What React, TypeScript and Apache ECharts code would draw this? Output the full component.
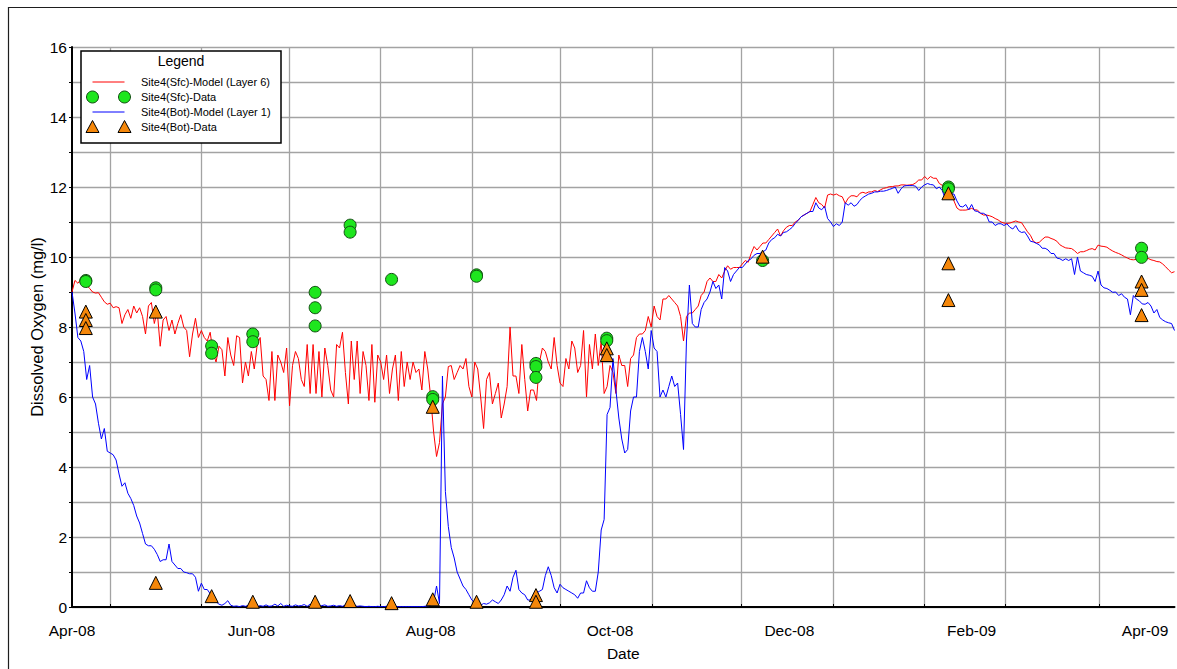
import React, { useEffect, useRef } from "react";
import * as echarts from "echarts";

// ---- axis definitions (day offsets from 1 Apr 2008) ----
const xLabelDays = [0, 61, 122, 183, 244, 306, 365];
const xLabelTexts = ["Apr-08", "Jun-08", "Aug-08", "Oct-08", "Dec-08", "Feb-09", "Apr-09"];
const xGridDays = [13, 44, 74, 105, 136, 166, 197.5, 227.5, 259, 290, 317.5, 349.3];
const xMaxDay = 375;

// ---- model series: one value per day, starting at day 0 ----
const modelStepDays = 1;
const sfcModel = [
  9.0, 9.33, 9.25, 9.36, 9.25, 9.2, 9.1, 9.0, 8.97, 8.98,
  8.85, 8.72, 8.65, 8.68, 8.55, 8.58, 8.55, 8.1, 8.35, 8.5,
  8.25, 8.6, 8.4, 8.55, 8.3, 7.8, 8.6, 8.7, 8.1, 8.45,
  7.45, 8.2, 8.3, 7.9, 8.2, 7.8, 8.1, 8.35, 8.0, 7.9,
  7.15, 7.8, 8.25, 7.7, 7.9, 7.7, 7.6, 7.85, 7.25, 7.0,
  7.45, 7.35, 6.6, 7.7, 7.2, 6.9, 7.75, 7.7, 6.4, 7.0,
  6.6, 7.3, 6.8, 7.5, 7.7, 6.6, 6.5, 5.9, 7.3, 5.9,
  7.2, 7.0, 6.7, 7.4, 5.75, 6.9, 7.3, 7.1, 6.5, 6.3,
  7.5, 6.1, 7.5, 6.1, 7.3, 6.0, 7.4, 6.9, 6.2, 6.0,
  7.5, 7.4, 7.85, 6.7, 5.8, 7.6, 6.5, 7.6, 6.1, 7.3,
  6.9, 5.9, 7.5, 5.85, 7.2, 7.0, 6.5, 7.2, 6.1, 6.8,
  7.2, 5.9, 7.3, 6.3, 7.0, 6.5, 7.0, 6.7, 6.8, 6.2,
  7.3, 6.8, 6.0, 5.0, 4.3, 4.7, 5.8, 6.0, 6.87, 6.9,
  6.5, 6.7, 6.9, 6.8, 7.1, 6.3, 6.0, 7.0, 6.8, 6.0,
  5.1, 6.5, 6.7, 5.8, 6.1, 6.4, 5.4, 5.8, 6.3, 8.0,
  6.6, 6.6, 6.1, 7.5, 6.5, 5.6, 6.2, 6.2, 5.9, 7.0,
  7.4, 7.3, 7.0, 6.8, 7.7, 6.9, 6.4, 6.3, 7.1, 6.8,
  7.6, 7.4, 6.7, 6.9, 7.9, 6.0, 7.5, 6.8, 7.8, 6.9,
  7.6, 6.1, 6.3, 6.9, 6.7, 6.1, 7.2, 6.9, 6.9, 6.3,
  7.1, 7.2, 7.7, 7.8, 7.8, 7.9, 8.3, 8.0, 8.6, 8.3,
  8.2, 8.8, 8.8, 8.9, 8.8, 8.7, 8.6, 8.3, 7.6, 8.3,
  8.4, 8.4, 8.5, 8.6, 8.9, 9.0, 9.3, 9.4, 9.3, 9.3,
  9.5, 9.4, 9.6, 9.75, 9.65, 9.7, 9.7, 9.7, 9.8, 9.9,
  9.85, 10.1, 10.3, 10.2, 10.3, 10.4, 10.4, 10.5, 10.6, 10.7,
  10.8, 10.6, 10.75, 10.85, 10.9, 10.9, 11.0, 11.05, 11.15, 11.2,
  11.25, 11.3, 11.5, 11.7, 11.55, 11.5, 11.4, 11.77, 11.8, 11.77,
  11.8, 11.75, 11.72, 11.53, 11.68, 11.75, 11.75, 11.72, 11.82, 11.85,
  11.82, 11.86, 11.86, 11.9, 11.87, 11.92, 11.96, 11.98, 12.01, 12.01,
  12.03, 12.03, 12.06, 12.06, 12.05, 12.06, 12.07, 12.12, 12.2, 12.2,
  12.3, 12.22, 12.3, 12.25, 12.25, 12.1, 12.05, 11.87, 11.82, 11.78,
  11.6, 11.4, 11.34, 11.34, 11.34, 11.36, 11.39, 11.35, 11.34, 11.25,
  11.2, 11.2, 11.18, 11.15, 11.1, 11.06, 11.0, 10.97, 10.96, 10.97,
  11.0, 11.03, 11.0, 10.98, 10.85, 10.72, 10.62, 10.45, 10.4, 10.42,
  10.5, 10.57, 10.57, 10.53, 10.5, 10.45, 10.35, 10.3, 10.26, 10.25,
  10.24, 10.18, 10.1, 10.15, 10.15, 10.18, 10.22, 10.24, 10.2, 10.34,
  10.31, 10.3, 10.28, 10.22, 10.17, 10.13, 10.1, 10.06, 10.01, 9.97,
  9.93, 9.92, 9.93, 9.92, 9.92, 9.96, 9.96, 9.92, 9.9, 9.87,
  9.86, 9.8, 9.72, 9.63, 9.55, 9.58,
];
const botModel = [
  9.0, 8.4, 7.7, 7.6, 7.3, 6.5, 6.9, 6.0, 5.8, 5.25,
  4.8, 5.1, 4.45, 4.4, 4.35, 4.2, 3.8, 3.45, 3.55, 3.25,
  3.1, 2.9, 2.6, 2.4, 2.1, 1.8, 1.75, 1.75, 1.65, 1.5,
  1.3, 1.35, 1.35, 1.8, 1.3, 1.2, 1.1, 1.1, 1.0, 0.98,
  0.95, 0.95, 0.85, 0.45, 0.68, 0.5, 0.5, 0.38, 0.25, 0.15,
  0.08, 0.05, 0.1, 0.18, 0.05, 0.02, 0.03, 0.01, 0.04, 0.02,
  0.05, 0.02, 0.03, 0.01, 0.04, 0.02, 0.06, 0.02, 0.03, 0.08,
  0.03, 0.1, 0.02, 0.05, 0.03, 0.02, 0.06, 0.03, 0.04, 0.07,
  0.02, 0.08, 0.03, 0.05, 0.02, 0.04, 0.06, 0.02, 0.03, 0.05,
  0.02, 0.04, 0.02, 0.06, 0.03, 0.02, 0.04, 0.02, 0.03, 0.02,
  0.01, 0.02, 0.01, 0.01, 0.02, 0.01, 0.01, 0.02, 0.01, 0.01,
  0.01, 0.01, 0.01, 0.01, 0.01, 0.01, 0.01, 0.01, 0.01, 0.01,
  0.02, 0.03, 0.05, 0.15, 0.6, 0.1, 6.6, 3.3, 2.3, 1.7,
  1.4, 1.0, 0.8, 0.6, 0.5, 0.35, 0.2, 0.12, 0.05, 0.05,
  0.1, 0.08, 0.12, 0.2, 0.15, 0.1, 0.2, 0.35, 0.6, 0.45,
  0.85, 1.05, 0.5, 0.4, 0.35, 0.2, 0.2, 0.35, 0.4, 0.45,
  0.5, 0.9, 1.15, 0.9, 0.55, 0.4, 0.65, 0.55, 0.5, 0.45,
  0.4, 0.35, 0.25, 0.4, 0.4, 0.75, 0.55, 0.45, 0.45, 1.0,
  2.2, 2.5, 5.5, 5.7, 7.1, 6.2, 5.4, 4.8, 4.4, 4.5,
  5.6, 6.0, 6.0, 7.3, 7.7, 7.3, 6.8, 7.9, 7.4, 7.3,
  6.0, 6.2, 6.0, 6.3, 6.6, 6.3, 6.4, 5.5, 4.5, 7.6,
  9.2, 8.1, 8.0, 8.0, 8.5, 8.7, 8.8, 9.0, 9.3, 9.1,
  9.2, 8.8, 9.7, 9.6, 9.3, 9.5, 9.6, 9.7, 9.7, 9.8,
  9.9, 9.95, 10.05, 10.1, 10.1, 10.15, 10.2, 10.4, 10.5, 10.55,
  10.65, 10.6, 10.7, 10.72, 10.78, 10.85, 10.96, 11.05, 11.15, 11.2,
  11.25, 11.3, 11.3, 11.55, 11.4, 11.35, 11.45, 11.1, 11.0, 10.87,
  10.95, 10.9, 11.0, 11.55, 11.48, 11.55, 11.45, 11.5, 11.62, 11.7,
  11.75, 11.8, 11.82, 11.86, 11.86, 11.88, 11.88, 11.9, 11.93, 11.96,
  12.0, 11.82, 11.95, 12.03, 12.04, 12.04, 12.04, 12.02, 11.9, 12.0,
  12.06, 12.1, 12.07, 12.06, 11.95, 12.0, 11.9, 11.67, 11.72, 11.8,
  11.8, 11.6, 11.45, 11.43, 11.5, 11.35, 11.5, 11.32, 11.3, 11.25,
  11.25, 11.2, 11.0, 11.0, 10.9, 10.95, 10.95, 10.9, 10.95, 10.85,
  10.8, 10.9, 10.75, 10.7, 10.72, 10.6, 10.45, 10.43, 10.39, 10.35,
  10.25, 10.25, 10.2, 10.1, 10.1, 9.97, 9.95, 9.9, 9.95, 9.9,
  9.95, 9.5, 10.0, 9.6, 9.55, 9.5, 9.48, 9.45, 9.3, 9.6,
  9.2, 9.12, 9.1, 9.05, 8.99, 9.0, 8.9, 8.95, 8.85, 8.8,
  8.35, 8.9, 8.8, 8.75, 8.66, 8.65, 8.7, 8.6, 8.4, 8.5,
  8.27, 8.2, 8.15, 8.12, 8.1, 7.9,
];

// ---- observed data (day offset, mg/l) ----
const sfcDataDays = [4.7, 4.7, 28.5, 28.5, 47.5, 47.5, 61.5, 61.5, 82.7, 82.7, 82.7, 94.6, 94.6, 108.7, 122.7, 122.7, 137.6, 137.6, 157.8, 157.8, 157.8, 181.9, 181.9, 234.9, 298.1, 298.1, 363.8, 363.8];
const sfcDataVals = [9.33, 9.3, 9.12, 9.06, 7.46, 7.25, 7.8, 7.58, 8.99, 8.55, 8.03, 10.91, 10.71, 9.36, 6.01, 5.93, 9.49, 9.45, 6.96, 6.87, 6.56, 7.68, 7.61, 9.9, 12.0, 11.95, 10.25, 9.99];
const botDataDays = [4.7, 4.7, 4.7, 28.5, 28.5, 47.5, 61.5, 82.7, 94.6, 108.7, 122.7, 122.7, 137.6, 157.8, 157.8, 181.9, 181.9, 234.9, 298.1, 298.1, 298.1, 363.8, 363.8, 363.8];
const botDataVals = [8.44, 8.2, 7.97, 8.44, 0.69, 0.31, 0.15, 0.15, 0.17, 0.11, 5.72, 0.22, 0.15, 0.34, 0.15, 7.39, 7.2, 10.01, 11.82, 9.82, 8.77, 9.3, 9.06, 8.34];

const legendNames = [
  "Site4(Sfc)-Model (Layer 6)",
  "Site4(Sfc)-Data",
  "Site4(Bot)-Model (Layer 1)",
  "Site4(Bot)-Data",
];

const FONT = '"Liberation Sans", Arial, sans-serif';
const RED = "#ff0000";
const BLUE = "#0000ff";
const GREEN = "#1ee61e";
const GREEN_EDGE = "#124d12";
const ORANGE = "#f5870a";
const GRID = "#a3a3a3";

export default function App() {
  const ref = useRef<HTMLDivElement>(null);

  useEffect(() => {
    if (!ref.current) return;
    const chart = echarts.init(ref.current, undefined, { renderer: "svg" });

    const labelMap: Record<number, string> = {};
    xLabelDays.forEach((d, i) => (labelMap[d] = xLabelTexts[i]));

    const sfcLine = sfcModel.map((v, i) => [i * modelStepDays, v]);
    const botLine = botModel.map((v, i) => [i * modelStepDays, v]);
    const sfcPts = sfcDataDays.map((d, i) => [d, sfcDataVals[i]]);
    const botPts = botDataDays.map((d, i) => [d, botDataVals[i]]);

    // legend layout
    const lgX = 81, lgY = 51, lgW = 200, lgH = 92;
    const rowY = [82, 97, 112, 127];
    const sx1 = 92.5, sx2 = 124.5, textX = 141;
    const tri = (cx: number, cy: number) => [
      [cx, cy - 6.5],
      [cx + 6.5, cy + 5.5],
      [cx - 6.5, cy + 5.5],
    ];
    const textStyle = (t: string, size: number, align: string) => ({
      text: t,
      font: `${size}px ${FONT}`,
      fill: "#000",
      align,
      verticalAlign: "middle",
      textAlign: align,
      textVerticalAlign: "middle",
    });

    const graphic: any[] = [
      {
        type: "rect",
        z: 1,
        silent: true,
        shape: { x: 8.5, y: 7.5, width: 1400, height: 900 },
        style: { fill: "none", stroke: "#1e1e1e", lineWidth: 1.2 },
      },
      {
        type: "rect",
        z: 100,
        shape: { x: lgX, y: lgY, width: lgW, height: lgH },
        style: { fill: "#fff", stroke: "#000", lineWidth: 1.5 },
      },
      { type: "text", z: 101, x: lgX + lgW / 2, y: 61, style: textStyle("Legend", 14, "center") },
      { type: "line", z: 101, shape: { x1: sx1, y1: rowY[0], x2: sx2, y2: rowY[0] }, style: { stroke: RED, lineWidth: 1 } },
      { type: "circle", z: 101, shape: { cx: sx1, cy: rowY[1], r: 6 }, style: { fill: GREEN, stroke: GREEN_EDGE, lineWidth: 1 } },
      { type: "circle", z: 101, shape: { cx: sx2, cy: rowY[1], r: 6 }, style: { fill: GREEN, stroke: GREEN_EDGE, lineWidth: 1 } },
      { type: "line", z: 101, shape: { x1: sx1, y1: rowY[2], x2: sx2, y2: rowY[2] }, style: { stroke: BLUE, lineWidth: 1 } },
      { type: "polygon", z: 101, shape: { points: tri(sx1, rowY[3]) }, style: { fill: ORANGE, stroke: "#000", lineWidth: 1 } },
      { type: "polygon", z: 101, shape: { points: tri(sx2, rowY[3]) }, style: { fill: ORANGE, stroke: "#000", lineWidth: 1 } },
      ...legendNames.map((n, i) => ({
        type: "text",
        z: 101,
        x: textX,
        y: rowY[i],
        style: textStyle(n, 11, "left"),
      })),
    ];

    const option: any = {
      animation: false,
      backgroundColor: "#ffffff",
      textStyle: { fontFamily: FONT },
      grid: {
        left: 72,
        top: 47,
        width: 1102.5,
        height: 560,
        containLabel: false,
        outerBoundsMode: "none",
      },
      xAxis: {
        type: "value",
        min: 0,
        max: xMaxDay,
        name: "Date",
        nameLocation: "middle",
        nameGap: 38,
        nameTextStyle: { fontSize: 15.5, color: "#000", fontFamily: FONT },
        axisLine: { show: true, onZero: false, lineStyle: { color: "#000", width: 2 } },
        axisTick: {
          show: true,
          inside: true,
          length: 3,
          customValues: xGridDays,
          lineStyle: { color: "#000", width: 1 },
        },
        axisLabel: {
          customValues: xLabelDays,
          formatter: (v: number) => labelMap[v] ?? "",
          fontSize: 15.5,
          color: "#000",
          fontFamily: FONT,
          margin: 15,
          showMinLabel: true,
          showMaxLabel: true,
        },
        splitLine: { show: true, lineStyle: { color: GRID, width: 1.3 } },
      },
      yAxis: {
        type: "value",
        min: 0,
        max: 16,
        interval: 1,
        name: "Dissolved Oxygen (mg/l)",
        nameLocation: "middle",
        nameGap: 27,
        nameMoveOverlap: false,
        nameTextStyle: { fontSize: 16.5, color: "#000", fontFamily: FONT },
        axisLine: { show: true, lineStyle: { color: "#000", width: 2 } },
        axisTick: { show: true, length: 3, lineStyle: { color: "#000", width: 1 } },
        axisLabel: {
          formatter: (v: number) => (v % 2 === 0 ? String(v) : ""),
          fontSize: 15.5,
          color: "#000",
          fontFamily: FONT,
          margin: 5,
        },
        splitLine: { show: true, lineStyle: { color: GRID, width: 1.3 } },
      },
      series: [
        {
          name: legendNames[0],
          type: "line",
          data: sfcLine,
          symbol: "none",
          z: 2,
          lineStyle: { color: RED, width: 1 },
        },
        {
          name: legendNames[2],
          type: "line",
          data: botLine,
          symbol: "none",
          z: 3,
          lineStyle: { color: BLUE, width: 1 },
        },
        {
          name: legendNames[1],
          type: "scatter",
          data: sfcPts,
          symbol: "circle",
          symbolSize: 12,
          z: 4,
          itemStyle: { color: GREEN, borderColor: GREEN_EDGE, borderWidth: 1, opacity: 1 },
        },
        {
          name: legendNames[3],
          type: "scatter",
          data: botPts,
          symbol: "triangle",
          symbolSize: 13,
          z: 5,
          itemStyle: { color: ORANGE, borderColor: "#000", borderWidth: 1, opacity: 1 },
        },
      ],
      graphic,
    };

    chart.setOption(option);
    return () => chart.dispose();
  }, []);

  return (
    <div
      ref={ref}
      style={{ position: "absolute", left: 0, top: 0, width: 1177, height: 669, background: "#fff" }}
    />
  );
}
